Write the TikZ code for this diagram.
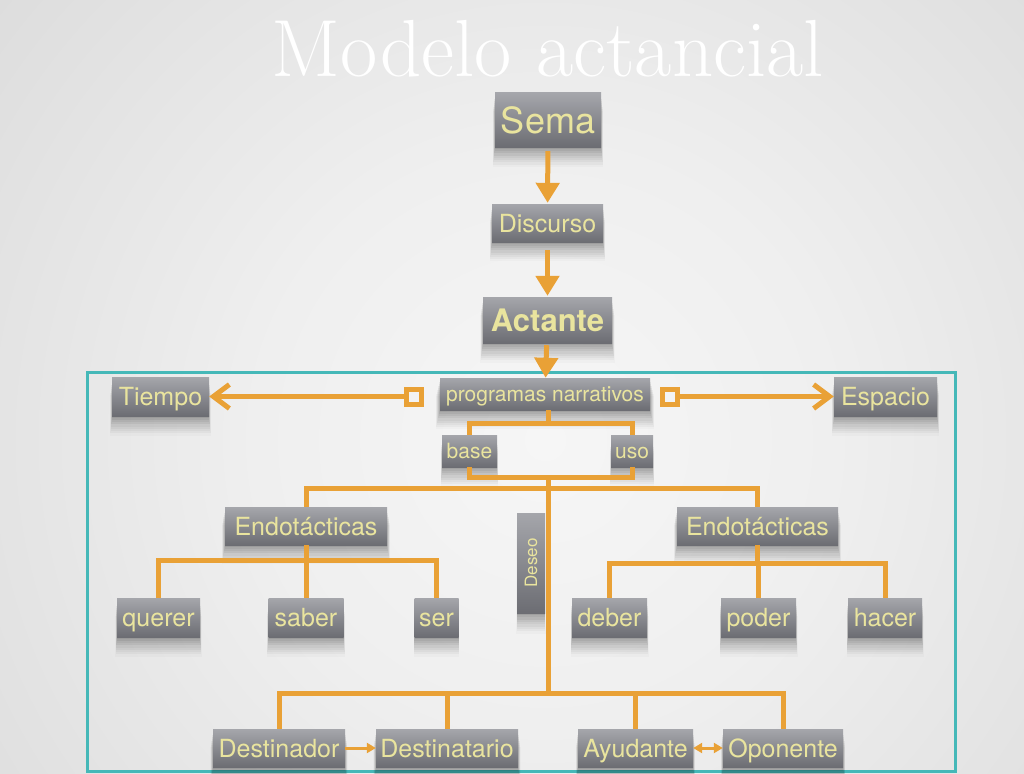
\documentclass[tikz,border=0pt]{standalone}
\usepackage{fontspec}
\newfontfamily\heros{TeX Gyre Heros}
\usetikzlibrary{arrows.meta,shadows}
\definecolor{bgA}{HTML}{F6F6F6}
\definecolor{bgB}{HTML}{EFEFEF}
\definecolor{bgC}{HTML}{D6D6D6}
\definecolor{bgD}{HTML}{BBBBBB}
\definecolor{boxT}{HTML}{A5A6AB}
\definecolor{boxB}{HTML}{6C6D73}
\definecolor{txt}{HTML}{E9E49E}
\definecolor{org}{HTML}{E9A136}
\definecolor{tealline}{HTML}{45B8B8}
\pgfdeclareradialshading{bgshade}{\pgfpoint{0bp}{0bp}}{color(0bp)=(bgA); color(10bp)=(bgB); color(30bp)=(bgC); color(48bp)=(bgD); color(50bp)=(bgD)}
\begin{document}
\begin{tikzpicture}[x=1pt,y=-1pt,
  softshadow/.style={
    general shadow={fill=black, opacity=0.06, shadow yshift=-2pt, rounded corners=2pt},
    general shadow={fill=black, opacity=0.06, shadow yshift=-4pt, shadow scale=1.005, rounded corners=3pt},
    general shadow={fill=black, opacity=0.05, shadow yshift=-6pt, shadow scale=1.01, rounded corners=4pt},
    general shadow={fill=black, opacity=0.05, shadow yshift=-8pt, shadow scale=1.015, rounded corners=5pt},
    general shadow={fill=black, opacity=0.04, shadow yshift=-10pt, shadow scale=1.02, rounded corners=6pt},
    general shadow={fill=black, opacity=0.04, shadow yshift=-12pt, shadow scale=1.025, rounded corners=7pt},
    general shadow={fill=black, opacity=0.03, shadow yshift=-14pt, shadow scale=1.03, rounded corners=8pt},
    general shadow={fill=black, opacity=0.03, shadow yshift=-16pt, shadow scale=1.035, rounded corners=9pt},
    general shadow={fill=black, opacity=0.02, shadow yshift=-18pt, shadow scale=1.04, rounded corners=10pt}},
  box/.style={rectangle, inner sep=0pt, top color=boxT, bottom color=boxB, text=txt,
    font=\heros\fontsize{25}{30}\selectfont, text height=18pt, text depth=0pt, softshadow},
  small/.style={font=\heros\fontsize{21}{25}\selectfont, text height=15pt},
  link/.style={draw=org, line width=5pt},
  thin/.style={draw=org, line width=3pt},
  dart/.style={-{Triangle[length=20pt,width=23pt]}},
  barb/.style={-{Straight Barb[length=16pt,width=24pt]}},
  sq/.style={draw=org, line width=5pt, minimum size=15pt, inner sep=0pt},
]
\useasboundingbox (0,0) rectangle (1024,773);
\begin{scope}
  \clip (0,0) rectangle (1024,773);
  \shade[shading=bgshade] (545,440) circle[radius=720pt];
\end{scope}

\node[text=white, font=\fontsize{81}{86}\selectfont, anchor=base] (title) at (548,77) {Modelo actancial};

\draw[tealline, line width=3pt] (87,372) rectangle (955,771);

% nodes
\node[box, font=\heros\fontsize{36}{40}\selectfont, text height=26pt, minimum width=106pt, minimum height=54pt] (sema) at (548,120) {Sema};
\node[box, minimum width=111pt, minimum height=38pt] (disc) at (547.5,223) {Discurso};
\node[box, font=\heros\bfseries\fontsize{31}{36}\selectfont, text height=22pt, minimum width=129pt, minimum height=46pt] (act) at (547.5,320) {Actante};
\node[box, small, minimum width=210pt, minimum height=32pt] (prog) at (545,394) {programas narrativos};
\node[box, minimum width=97pt, minimum height=39pt] (tiempo) at (160.5,396.5) {Tiempo};
\node[box, minimum width=103pt, minimum height=39pt] (espacio) at (885.5,396.5) {Espacio};
\node[sq] (sqL) at (414,396.5) {};
\node[sq] (sqR) at (670,396.5) {};
\node[box, small, minimum width=55pt, minimum height=32pt] (base) at (469.5,451) {base};
\node[box, small, minimum width=42pt, minimum height=32pt] (uso) at (632,451) {uso};
\node[box, minimum width=162pt, minimum height=38pt] (endL) at (306,526) {Endotácticas};
\node[box, minimum width=161pt, minimum height=38pt] (endR) at (757.5,526) {Endotácticas};
\node[box, font=\heros\fontsize{17}{20}\selectfont, text height=, text depth=, minimum width=28pt, minimum height=100pt] (deseo) at (531,563) {\rotatebox{90}{Deseo}};
\node[box, minimum width=83pt, minimum height=39pt] (querer) at (158.5,617.5) {querer};
\node[box, minimum width=75pt, minimum height=39pt] (saber) at (306,617.5) {saber};
\node[box, minimum width=44pt, minimum height=39pt] (ser) at (436.5,617.5) {ser};
\node[box, minimum width=75pt, minimum height=39pt] (deber) at (609.5,617.5) {deber};
\node[box, minimum width=75pt, minimum height=39pt] (poder) at (758.5,617.5) {poder};
\node[box, minimum width=74pt, minimum height=39pt] (hacer) at (885,617.5) {hacer};
\node[box, minimum width=132pt, minimum height=38pt] (dor) at (279,748) {Destinador};
\node[box, minimum width=142pt, minimum height=38pt] (dio) at (447,748) {Destinatario};
\node[box, minimum width=115pt, minimum height=38pt] (ayu) at (635.5,748) {Ayudante};
\node[box, minimum width=120pt, minimum height=38pt] (opo) at (783,748) {Oponente};

% junctions
\coordinate (j1) at (548,423);
\coordinate (j2) at (548,477);
\coordinate (j3) at (548,488);
\coordinate (j4L) at (306,560);
\coordinate (j4R) at (757.5,563);
\coordinate (j5) at (548,693);

% connectors
\draw[link, dart, shorten <=4pt, shorten >=1pt] (sema) -- (disc);
\draw[link, dart, shorten <=8pt, shorten >=1pt] (disc) -- (act);
\draw[link, dart, shorten <=2pt] (act) -- (prog);
\draw[link, barb] (sqL) -- (tiempo);
\draw[link, barb] (sqR) -- (espacio);

\draw[link] (prog.south -| j1) -- (j1);
\draw[link] (base.north) -- (base.north |- j1) -- (uso.north |- j1) -- (uso.north);
\draw[link] (base.south) -- (base.south |- j2) -- (uso.south |- j2) -- (uso.south);
\draw[link] (j2) -- (j5);
\draw[link] (endL.north) -- (endL.north |- j3) -- (endR.north |- j3) -- (endR.north);

\draw[link] (endL.south) -- (j4L);
\draw[link] (querer.north) -- (querer.north |- j4L) -- (ser.north |- j4L) -- (ser.north);
\draw[link] (saber.north) -- (saber.north |- j4L);

\draw[link] (endR.south) -- (j4R);
\draw[link] (deber.north) -- (deber.north |- j4R) -- (hacer.north |- j4R) -- (hacer.north);
\draw[link] (poder.north) -- (poder.north |- j4R);

\draw[link] (dor.north) -- (dor.north |- j5) -- (opo.north |- j5) -- (opo.north);
\draw[link] (dio.north) -- (dio.north |- j5);
\draw[link] (ayu.north) -- (ayu.north |- j5);

\draw[thin, -{Triangle[length=9pt,width=10pt]}] (dor) -- (dio);
\draw[thin, {Triangle[length=9pt,width=10pt]}-{Triangle[length=9pt,width=10pt]}] (ayu) -- (opo);
\end{tikzpicture}
\end{document}
